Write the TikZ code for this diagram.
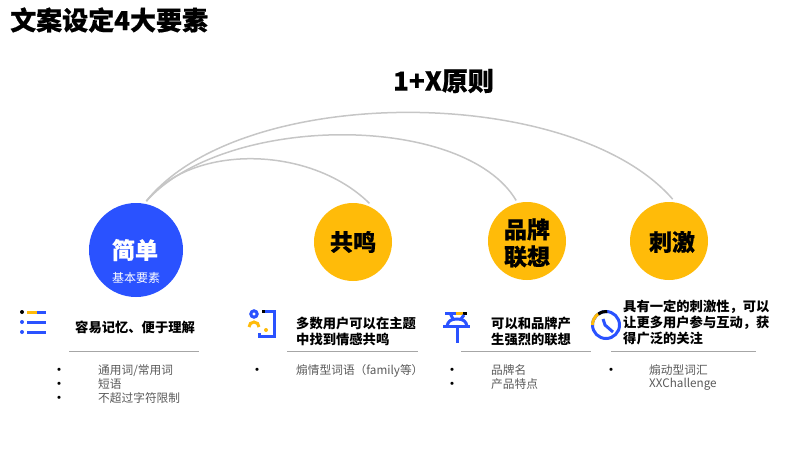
\documentclass[tikz,border=0pt]{standalone}
\usepackage{fontspec}
\setmainfont{Noto Sans CJK SC}[BoldFeatures={FakeBold=0.5}]
\newfontfamily\plainface{Noto Sans CJK SC}
\definecolor{brandblue}{HTML}{2A52FF}
\definecolor{amber}{HTML}{FFBB09}
\definecolor{arcgray}{HTML}{C6C6C6}
\definecolor{rulegray}{HTML}{A6A6A6}
\definecolor{bodygray}{HTML}{595959}
\newcommand{\fsz}[2]{\fontsize{#1}{#2}\selectfont}
\tikzset{
  ball/.style={circle,fill=amber,inner sep=0pt,outer sep=3pt,minimum size=78pt,align=center,text=black,font=\fsz{23}{28}\bfseries},
  head/.style={anchor=west,inner sep=0pt,align=left,font=\fsz{13.3}{16}\plainface\bfseries},
  item/.style={anchor=west,inner sep=0pt,text=bodygray,font=\fsz{11.7}{14}},
  dotmark/.style={inner sep=0pt,font=\fsz{15}{16},yshift=-1.5pt},
  arcline/.style={arcgray,line width=1.5pt},
  rulemark/.style={rulegray,line width=1pt},
  icon/.style={line width=3pt}
}
\begin{document}
\begin{tikzpicture}[x=1pt,y=-1pt]
\useasboundingbox (0,0) rectangle (800,450);
\node[anchor=west,inner sep=0pt,font=\fsz{26}{30}\bfseries] (title) at (10,20) {文案设定4大要素};
\node[inner sep=0pt,font=\fsz{26}{30}\bfseries] (rule) at (443.5,81) {1+X原则};
% circles
\node[ball,fill=brandblue,minimum size=94pt] (simple) at (136,250) {};
\node[inner sep=0pt,text=white,font=\fsz{23}{28}\bfseries] (simpletxt) at (135,250) {简单};
\node[inner sep=0pt,text=white,font=\fsz{12}{14}] (simplesub) at (136,278) {基本要素};
\node[ball] (echo) at (353,242) {共鸣};
\node[ball] (brand) at (527,241) {};
\node[inner sep=0pt,align=center,font=\fsz{23}{27}\bfseries] (brandtxt) at (527,243) {品牌\\联想};
\node[ball] (spur) at (669,241) {};
\node[inner sep=0pt,font=\fsz{23}{28}\bfseries] (spurtxt) at (672,242) {刺激};
% arcs
\draw[arcline] (simple.78) .. controls +(44,-57) and +(-60,-59) .. (echo.67);
\draw[arcline] (simple.78) .. controls +(79,-88) and +(-52,-88) .. (brand.105);
\draw[arcline] (simple.78) .. controls +(94,-118) and +(-101,-116) .. (spur.85);
% headings and rules
\node[head] (h1) at (75,327) {容易记忆、便于理解};
\node[head] (h2) at (296,331) {多数用户可以在主题\\中找到情感共鸣};
\node[head] (h3) at (491,331) {可以和品牌产\\生强烈的联想};
\node[head] (h4) at (623,322) {具有一定的刺激性，可以\\让更多用户参与互动，获\\得广泛的关注};
\coordinate (r1a) at (69,351);\coordinate (r1b) at (199,351);
\coordinate (r2a) at (287,351);\coordinate (r2b) at (418,351);
\coordinate (r3a) at (461,351);\coordinate (r3b) at (591,351);
\coordinate (r4a) at (611,351);\coordinate (r4b) at (756,351);
\foreach \i in {1,2,3,4}{\draw[rulemark] (r\i a)--(r\i b);}
% lists
\foreach \i/\x/\y in {1/59/370,2/59/384,3/59/398,4/257/370,5/452/370,6/452/384,7/611/370}{\node[dotmark] (dot\i) at (\x,\y) {•};}
\node[item] (i1) at (98,370.5) {通用词/常用词};
\node[item] (i2) at (98,384.5) {短语};
\node[item] (i3) at (98,398.5) {不超过字符限制};
\node[item] (i4) at (296,370.5) {煽情型词语（family等）};
\node[item] (i5) at (491,370.5) {品牌名};
\node[item] (i6) at (491,384.5) {产品特点};
\node[item] (i7) at (649,370.5) {煽动型词汇};
\node[item] (i8) at (649,384.5) {XXChallenge};
% list icon
\fill (22,312) circle(2);
\foreach \y in {322,332}{\fill[brandblue] (22,\y) circle(2);\draw[brandblue,icon] (27,\y)--(46,\y);}
\draw[amber,icon] (27,312)--(37,312);
\draw[brandblue,icon] (37,312)--(46,312);
% person icon
\draw[brandblue,icon] (254,314) circle(3.2);
\draw[amber,icon] (249,327) arc(180:360:5);
\draw[brandblue,icon] (265,311)--(274,311)--(274,336)--(259,336)--(259,333);
\draw[icon] (262,311)--(265,311);
\fill[amber] (266,330) circle(2);
% pin icon
\draw[brandblue,icon] (445,313)--(456,313);
\draw[amber,icon] (456,313)--(463,313);
\draw[icon] (463,313)--(467,313);
\draw[brandblue,icon] (450,313)--(453,319);
\draw[brandblue,icon] (464,315)--(461,319);
\draw[brandblue,icon] (447,326) .. controls (448,321) and (451,319) .. (457,319) .. controls (463,319) and (466,321) .. (467,326);
\draw[brandblue,icon] (443,326)--(470,326);
\draw[brandblue,icon] (457,326)--(457,343);
% clock icon
\draw[brandblue,icon] (606,325) circle(13.5);
\draw[amber,icon] (592.5,325) arc(180:235:13.5);
\draw[icon] (598.3,313.9) arc(235:275:13.5);
\draw[brandblue,icon] (603,319)--(605,325)--(613,332);
\end{tikzpicture}
\end{document}
